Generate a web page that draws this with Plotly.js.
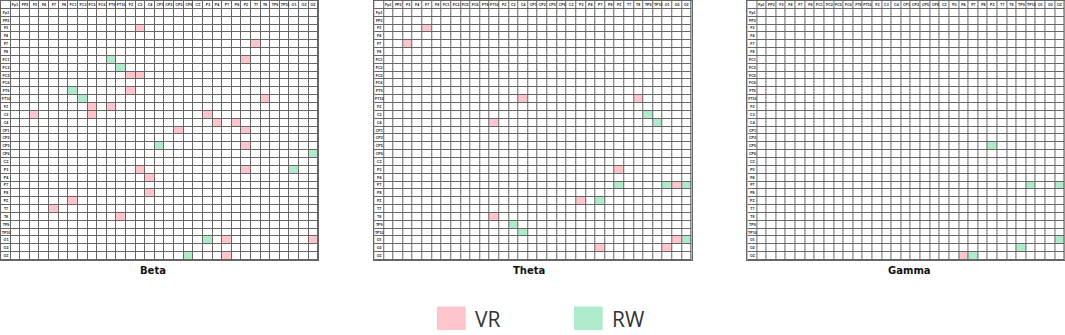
<!DOCTYPE html>
<html>
<head>
<meta charset="utf-8">
<script src="https://cdn.plot.ly/plotly-3.0.1.min.js"></script>
<style>html,body{margin:0;padding:0;background:#fff;}#chart{width:1065px;height:335px;}</style>
</head>
<body>
<div id="chart"></div>
<script>
const channels = ['Fp1','FP2','F3','F4','F7','F8','FC1','FC2','FC5','FC6','FT9','FT10','FZ','C3','C4','CP1','CP2','CP5','CP6','CZ','P3','P4','P7','P8','PZ','T7','T8','TP9','TP10','O1','O2','OZ'];
const bands = ['Beta','Theta','Gamma'];
const legendLabels = ['VR','RW'];

const betaVR = [['F3','C3'],['F7','T7'],['FC1','PZ'],['FC5','FZ'],['FC5','C3'],['FT9','FZ'],['FT10','T8'],['FZ','FC5'],['FZ','FT9'],['C3','F3'],['C3','FC5'],['C3','P3'],['C4','P4'],['C4','P8'],['CP1','CP5'],['CP1','PZ'],['CP5','PZ'],['P3','C3'],['P3','PZ'],['P4','C4'],['P8','C4'],['PZ','FC1'],['T7','F7'],['T8','FT10'],['O1','P7'],['O1','OZ'],['OZ','P7']];
const betaRW = [['FC1','FT9'],['FC2','FT10'],['FT9','FC1'],['FT10','FC2'],['CP5','CP1'],['CP6','OZ'],['P3','O1'],['O1','P3'],['OZ','CP6']];

const thetaVR = [['F3','F7'],['F7','F3'],['FT10','C4'],['FT10','T8'],['C4','FT10'],['T8','FT10'],['P3','PZ'],['P7','O2'],['PZ','P3'],['O1','O2'],['O2','P7'],['O2','O1']];
const thetaRW = [['C3','TP9'],['C4','TP10'],['TP9','C3'],['TP10','C4'],['P7','PZ'],['P7','O1'],['P7','OZ'],['PZ','P7'],['O1','OZ']];

const gammaVR = [['OZ','P4']];
const gammaRW = [['CP5','PZ'],['P7','TP10'],['P7','OZ'],['O1','OZ'],['O2','TP9'],['OZ','P7']];

const bandData = [[betaVR, betaRW],[thetaVR, thetaRW],[gammaVR, gammaRW]];

const PINK = '#FFC4CC';
const GREEN = '#AEEBCB';
const LINE = '#666666';
const W = 1065, H = 335;

const n = channels.length + 1;
function buildZ(vr, rw) {
  const z = [];
  for (let i = 0; i < n; i++) { z.push(new Array(n).fill(0)); }
  vr.forEach(p => { z[channels.indexOf(p[0]) + 1][channels.indexOf(p[1]) + 1] = 1; });
  rw.forEach(p => { z[channels.indexOf(p[0]) + 1][channels.indexOf(p[1]) + 1] = 2; });
  return z;
}
function buildText() {
  const t = [];
  for (let i = 0; i < n; i++) { t.push(new Array(n).fill('')); }
  channels.forEach((c, j) => { t[0][j + 1] = c; t[j + 1][0] = c; });
  return t;
}
const idx = [];
for (let i = 0; i < n; i++) idx.push(i);

const panelLeft = [1, 374.2, 747.4];
const panelWidth = 317.3;
const gridTop = 1, gridBottom = 260;
const titleX = [153, 529, 909];

const data = [];
const layout = {
  width: W, height: H,
  margin: {l: 0, r: 0, t: 0, b: 0},
  paper_bgcolor: '#ffffff',
  plot_bgcolor: LINE,
  showlegend: false,
  annotations: [],
  shapes: []
};

bands.forEach((b, k) => {
  const ax = k === 0 ? '' : String(k + 1);
  data.push({
    type: 'heatmap',
    z: buildZ(bandData[k][0], bandData[k][1]),
    x: idx, y: idx,
    text: buildText(),
    texttemplate: '%{text}',
    textfont: {family: 'Liberation Sans, Arial, sans-serif', size: 3.6, color: '#222', weight: 700},
    colorscale: [[0, '#ffffff'], [0.33, '#ffffff'], [0.34, PINK], [0.66, PINK], [0.67, GREEN], [1, GREEN]],
    zmin: 0, zmax: 2,
    showscale: false,
    xgap: 1, ygap: 1,
    hoverinfo: 'skip',
    xaxis: 'x' + ax, yaxis: 'y' + ax
  });
  const x0 = panelLeft[k] / W, x1 = (panelLeft[k] + panelWidth) / W;
  layout['xaxis' + ax] = {
    domain: [x0, x1], range: [-0.5, n - 0.5],
    showgrid: false, zeroline: false, showticklabels: false, ticks: '',
    showline: true, mirror: true, linecolor: LINE, linewidth: 1,
    anchor: 'y' + ax, fixedrange: true
  };
  layout['yaxis' + ax] = {
    domain: [1 - gridBottom / H, 1 - gridTop / H], range: [n - 0.5, -0.5],
    showgrid: false, zeroline: false, showticklabels: false, ticks: '',
    showline: true, mirror: true, linecolor: LINE, linewidth: 1,
    anchor: 'x' + ax, fixedrange: true
  };
  layout.annotations.push({
    text: '<b>' + b + '</b>', xref: 'paper', yref: 'paper',
    x: titleX[k] / W, y: 1 - 270 / H, xanchor: 'center', yanchor: 'middle',
    showarrow: false,
    font: {family: 'DejaVu Sans, Verdana, sans-serif', size: 10, color: '#111'}
  });
});

const legColors = [PINK, GREEN];
const legX = [437, 574];
legendLabels.forEach((lab, i) => {
  layout.shapes.push({
    type: 'rect', xref: 'paper', yref: 'paper',
    x0: legX[i] / W, x1: (legX[i] + 28.7) / W,
    y0: 1 - 330 / H, y1: 1 - 306.5 / H,
    fillcolor: legColors[i], line: {width: 0}
  });
  layout.annotations.push({
    text: lab, xref: 'paper', yref: 'paper',
    x: (legX[i] + 36) / W, y: 1 - 318.5 / H, xanchor: 'left', yanchor: 'middle',
    showarrow: false,
    font: {family: 'Open Sans, sans-serif', size: 21, color: '#333'}
  });
});

Plotly.newPlot('chart', data, layout, {staticPlot: true, displayModeBar: false});
</script>
</body>
</html>
